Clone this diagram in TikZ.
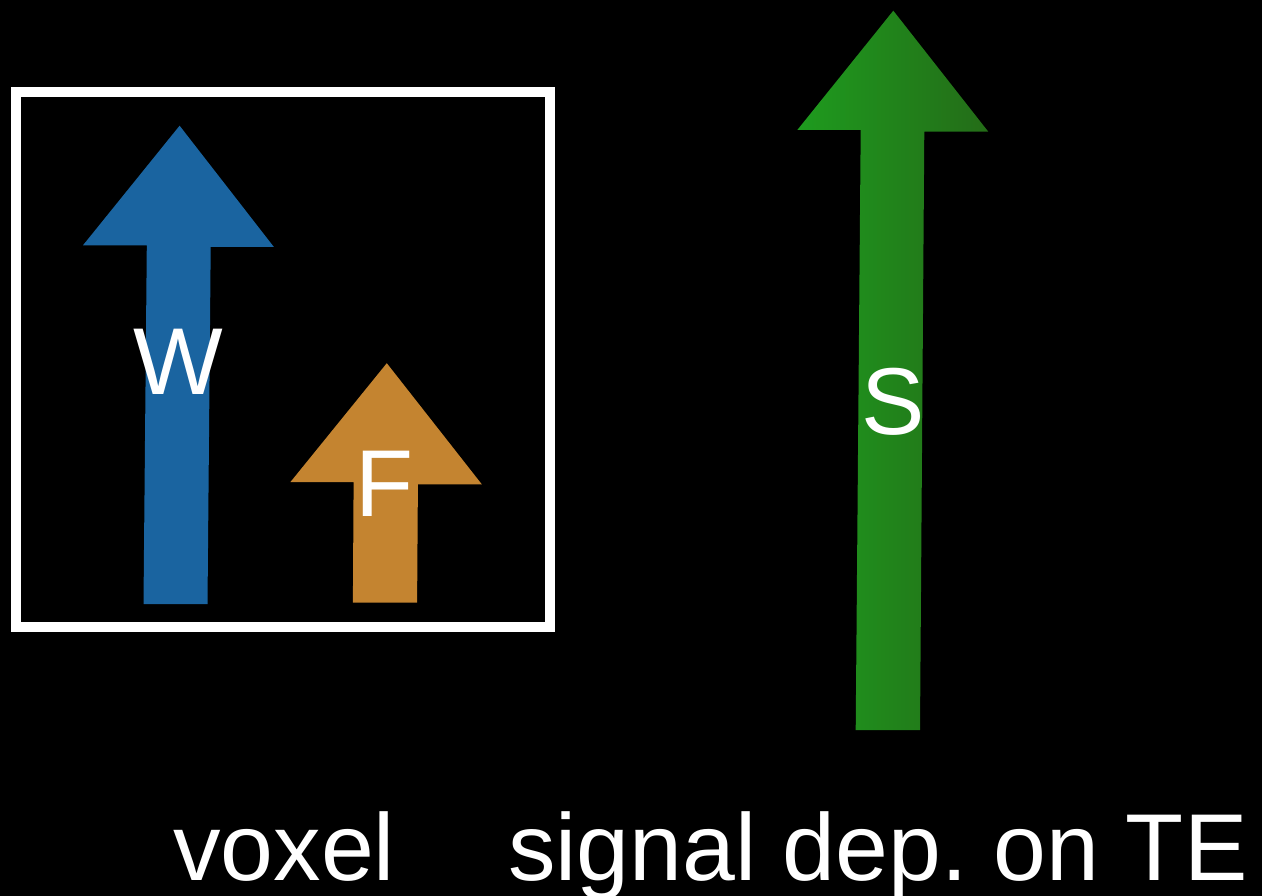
\documentclass[tikz,border=0pt]{standalone}
\usepackage{fontspec}
\setmainfont{Liberation Sans}
\frenchspacing
\definecolor{wblue}{RGB}{26,100,160}
\definecolor{forange}{RGB}{196,132,48}
\definecolor{sgreenL}{RGB}{30,155,30}
\definecolor{sgreenR}{RGB}{36,108,24}
\tikzset{
  lbl/.style={text=white, inner sep=0pt, font=\fontsize{95}{110}\selectfont},
  frame/.style={draw=white, line width=10pt},
}
\begin{document}
\begin{tikzpicture}[x=1pt,y=-1pt]
\fill[black] (0,0) rectangle (1262,896);
\useasboundingbox (0,0) rectangle (1262,896);
% voxel frame
\draw[frame] (15.5,92.5) rectangle (549.5,626.5);
% W arrow
\fill[wblue] (179.6,125.7) -- (273.9,247) -- (210.7,247) -- (207.5,604) -- (143.5,604) -- (146.8,245.4) -- (82.9,245.4) -- cycle;
% F arrow
\fill[forange] (386.8,363.2) -- (481.8,484.3) -- (417.9,484.3) -- (417.1,602.5) -- (352.9,602.5) -- (353.6,482.1) -- (290.4,482.1) -- cycle;
% S arrow
\shade[left color=sgreenL, right color=sgreenR] (893.3,10.7) -- (988.3,131.7) -- (924.3,131.7) -- (920,730) -- (855.7,730) -- (860.7,130) -- (797.3,130) -- cycle;
% labels
\node[lbl, anchor=base] (W) at (178.5,394.3) {W};
\node[lbl, anchor=base] (F) at (385,516) {F};
\node[lbl, anchor=base] (S) at (893,434.5) {S};
\node[lbl, anchor=base west] (voxel) at (173,880) {voxel};
\node[lbl, anchor=base west] (signal) at (508,880) {signal dep. on TE};
\end{tikzpicture}
\end{document}
